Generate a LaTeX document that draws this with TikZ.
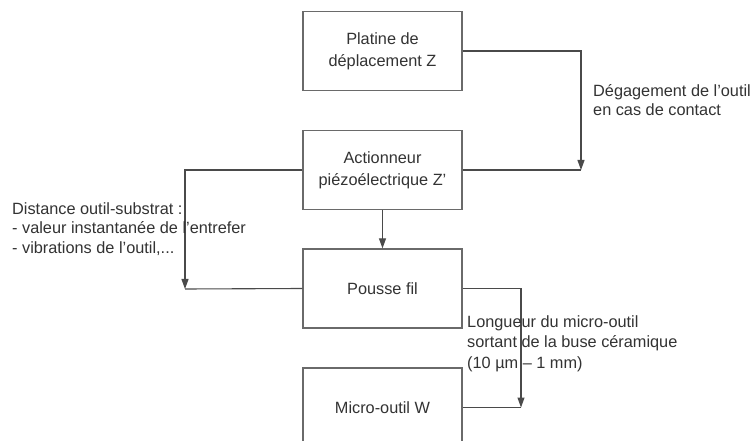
\documentclass[tikz,border=0pt]{standalone}
\usepackage{fontspec}
\setmainfont{Liberation Sans}
\usetikzlibrary{arrows.meta}
\definecolor{txt}{HTML}{333333}
\definecolor{ln}{HTML}{4A4A4A}
\definecolor{bx}{HTML}{6A6A6A}
\begin{document}
\begin{tikzpicture}[x=1pt,y=-1pt,
  boxnode/.style={draw=bx, line width=1.3pt, minimum width=159pt, minimum height=79pt,
    align=center, text=txt, font=\fontsize{16.3}{22}\selectfont, inner sep=0pt},
  lbl/.style={anchor=west, align=left, text=txt, inner sep=0pt},
  conn/.style={draw=ln, line width=1.1pt},
  arr/.style={conn, -{Triangle[width=7pt,length=10pt]}}]
\useasboundingbox (0,0) rectangle (756,441);
\clip (0,0) rectangle (756,441);
\fill[white] (0,0) rectangle (756,441);

\node[boxnode] (b1) at (382.5,51) {Platine de\\déplacement Z};
\node[boxnode] (b2) at (382.5,170) {Actionneur\\piézoélectrique Z'};
\node[boxnode] (b3) at (382.5,288.5) {Pousse fil};
\node[boxnode] (b4) at (382.5,407.5) {Micro-outil W};

\coordinate (c1) at (581,170);
\coordinate (c2) at (185,289);
\coordinate (c3) at (521,407.5);

\draw[arr] (b1.east) -| (c1);
\draw[conn] (b2.east) -- (c1);
\draw[arr] (b2.south) -- (b3.north);
\draw[arr] (b2.west) -| (c2);
\draw[conn] (c2) -- (b3.west);
\draw[arr] (b3.east) -| (c3);
\draw[conn] (c3) -- (b4.east);

\node[lbl, font=\fontsize{16.3}{18.5}\selectfont] (t1) at (593,100) {Dégagement de l’outil\\en cas de contact};
\node[lbl, font=\fontsize{16.3}{19.6}\selectfont] (t2) at (12,229) {Distance outil-substrat :\\- valeur instantanée de l’entrefer\\- vibrations de l’outil,...};
\node[lbl, font=\fontsize{16.3}{20.5}\selectfont] (t3) at (467,343.5) {Longueur du micro-outil\\sortant de la buse céramique\\(10 µm – 1 mm)};
\end{tikzpicture}
\end{document}
